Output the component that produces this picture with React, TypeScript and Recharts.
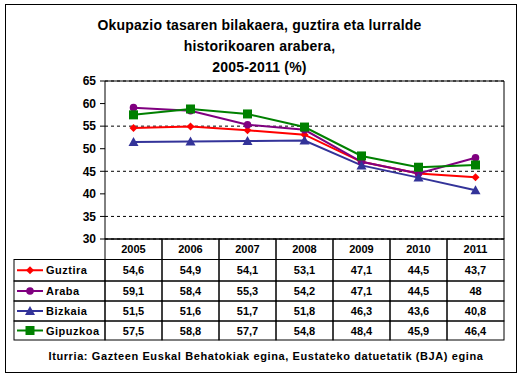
import { LineChart, Line, CartesianGrid, XAxis, YAxis } from 'recharts';

const years = ['2005', '2006', '2007', '2008', '2009', '2010', '2011'];
const guztira = [54.6, 54.9, 54.1, 53.1, 47.1, 44.5, 43.7];
const araba = [59.1, 58.4, 55.3, 54.2, 47.1, 44.5, 48];
const bizkaia = [51.5, 51.6, 51.7, 51.8, 46.3, 43.6, 40.8];
const gipuzkoa = [57.5, 58.8, 57.7, 54.8, 48.4, 45.9, 46.4];
const yTicks = [30, 35, 40, 45, 50, 55, 60, 65];

const series = [
  { key: 'guztira', name: 'Guztira', values: guztira, color: '#FF0000', marker: 'diamond' },
  { key: 'araba', name: 'Araba', values: araba, color: '#800080', marker: 'circle' },
  { key: 'bizkaia', name: 'Bizkaia', values: bizkaia, color: '#333399', marker: 'triangle' },
  { key: 'gipuzkoa', name: 'Gipuzkoa', values: gipuzkoa, color: '#008000', marker: 'square' },
];

const data = years.map((year, i) => {
  const row: { [k: string]: number | string } = { year };
  series.forEach(s => { row[s.key] = s.values[i]; });
  return row;
});

const FONT = '"Liberation Sans", Arial, sans-serif';
const COL_W = 57;
const ROWS = [0, 20.5, 42, 62, 82, 101];
const LEGEND_W = 91;

const Marker = ({ cx, cy, type, color }: { cx: number; cy: number; type: string; color: string }) => {
  if (type === 'diamond') {
    return <polygon points={`${cx},${cy - 4} ${cx + 4},${cy} ${cx},${cy + 4} ${cx - 4},${cy}`} fill={color} />;
  }
  if (type === 'circle') {
    return <circle cx={cx} cy={cy} r={3.8} fill={color} />;
  }
  if (type === 'triangle') {
    return <polygon points={`${cx},${cy - 5} ${cx + 5},${cy + 4} ${cx - 5},${cy + 4}`} fill={color} />;
  }
  return <rect x={cx - 4.5} y={cy - 4.5} width={9} height={9} fill={color} />;
};

const fmt = (v: number) => String(v).replace('.', ',');

const TableTick = (props: any) => {
  const { x, y, payload, index } = props;
  const left = x - COL_W / 2;
  const cells = [];
  cells.push(
    <g key="h">
      <rect x={left} y={y} width={COL_W} height={ROWS[1]} fill="none" stroke="#000" />
      <text x={x} y={y + ROWS[1] / 2 + 4} textAnchor="middle" fontSize={11} fontWeight="bold" fill="#000">
        {payload.value}
      </text>
    </g>
  );
  series.forEach((s, r) => {
    const top = y + ROWS[r + 1];
    const h = ROWS[r + 2] - ROWS[r + 1];
    cells.push(
      <g key={s.key}>
        <rect x={left} y={top} width={COL_W} height={h} fill="none" stroke="#000" />
        <text x={x} y={top + h / 2 + 4} textAnchor="middle" fontSize={11} fontWeight="bold" fill="#000">
          {fmt(s.values[index])}
        </text>
      </g>
    );
    if (index === 0) {
      const lx = left - LEGEND_W;
      const my = top + h / 2;
      cells.push(
        <g key={s.key + '-leg'}>
          <rect x={lx} y={top} width={LEGEND_W} height={h} fill="none" stroke="#000" />
          <line x1={lx + 3} x2={lx + 29} y1={my} y2={my} stroke={s.color} strokeWidth={2} />
          <Marker cx={lx + 16} cy={my} type={s.marker} color={s.color} />
          <text x={lx + 32} y={my + 4} fontSize={11} fontWeight="bold" fill="#000" letterSpacing={0.5}>
            {s.name}
          </text>
        </g>
      );
    }
  });
  return <g style={{ fontFamily: FONT }}>{cells}</g>;
};

const App = () => {
  return (
    <div style={{ position: 'absolute', left: 0, top: 0, width: 521, height: 379, background: '#fff', fontFamily: FONT }}>
      <div style={{ position: 'absolute', left: 5, top: 4, width: 510, height: 367, border: '1px solid #000' }} />
      <div
        style={{
          position: 'absolute', left: 0, top: 15, width: 519, textAlign: 'center',
          fontSize: 14, fontWeight: 'bold', lineHeight: '21px', color: '#000', letterSpacing: 0.2,
        }}
      >
        Okupazio tasaren bilakaera, guztira eta lurralde
        <br />
        historikoaren arabera,
        <br />
        2005-2011 (%)
      </div>
      <LineChart
        width={521}
        height={379}
        data={data}
        margin={{ top: 80, right: 16, left: 65, bottom: 35 }}
        style={{ position: 'absolute', left: 0, top: 0 }}
      >
        <CartesianGrid vertical={false} stroke="#000" strokeDasharray="3 3" />
        <XAxis
          dataKey="year"
          padding={{ left: COL_W / 2, right: COL_W / 2 }}
          height={105}
          axisLine={{ stroke: '#000' }}
          tickLine={false}
          tickSize={0}
          tickMargin={0}
          interval={0}
          tick={<TableTick />}
        />
        <XAxis xAxisId="top" orientation="top" dataKey="year" height={1} tick={false} tickLine={false} axisLine={{ stroke: '#000' }} />
        <YAxis
          domain={[30, 65]}
          ticks={yTicks}
          width={40}
          axisLine={{ stroke: '#000' }}
          tickLine={{ stroke: '#000' }}
          tickSize={5}
          tickMargin={4}
          tick={{ fontSize: 12, fontWeight: 'bold', fill: '#000', fontFamily: FONT }}
        />
        <YAxis yAxisId="right" orientation="right" domain={[30, 65]} width={1} tick={false} tickLine={false} axisLine={{ stroke: '#000' }} />
        {series.map(s => (
          <Line
            key={s.key}
            dataKey={s.key}
            name={s.name}
            type="linear"
            stroke={s.color}
            strokeWidth={2}
            isAnimationActive={false}
            dot={(p: any) => <Marker key={`${s.key}-${p.index}`} cx={p.cx} cy={p.cy} type={s.marker} color={s.color} />}
            activeDot={false}
          />
        ))}
      </LineChart>
      <div
        style={{
          position: 'absolute', left: 0, top: 350, width: 532, textAlign: 'center',
          fontSize: 11, fontWeight: 'bold', color: '#000', letterSpacing: 0.6,
        }}
      >
        Iturria: Gazteen Euskal Behatokiak egina, Eustateko datuetatik (BJA) egina
      </div>
    </div>
  );
};

export default App;
